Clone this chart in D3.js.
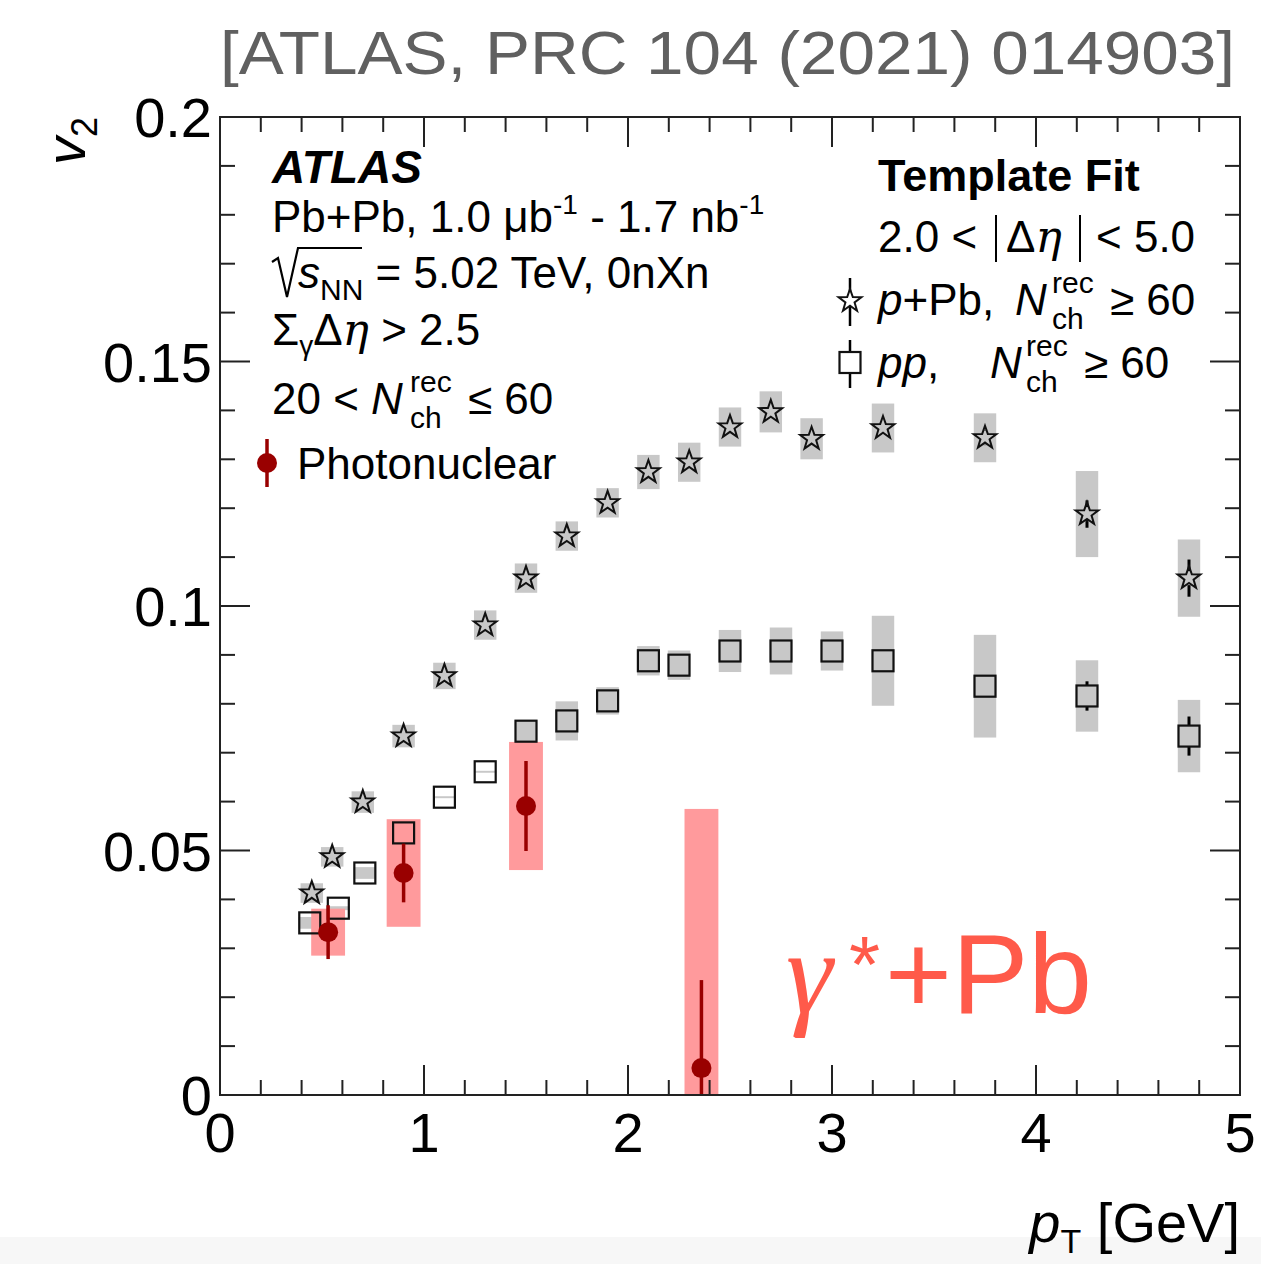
<!DOCTYPE html>
<html><head><meta charset="utf-8">
<script src="https://cdn.jsdelivr.net/npm/d3@7"></script>
<style>
body{margin:0;background:#fff;}
text{font-family:"Liberation Sans",Arial,Helvetica,sans-serif;fill:#000;}
</style>
</head><body>
<svg id="c" width="1261" height="1264"></svg>
<script>
// ---------------- data ----------------
const pPbPt   = [0.45,0.55,0.70,0.90,1.10,1.30,1.50,1.70,1.90,2.10,2.30,2.50,2.70,2.90,3.25,3.75,4.25,4.75];
const pPbV2   = [0.0413,0.0487,0.0599,0.0734,0.0857,0.0961,0.1057,0.1143,0.1211,0.1274,0.1294,0.1366,0.1397,0.1342,0.1364,0.1344,0.1188,0.1057];
const pPbStat = [0.0005,0.0005,0.0005,0.0005,0.0005,0.0006,0.0006,0.0007,0.0008,0.0009,0.0010,0.0010,0.0012,0.0013,0.0012,0.0015,0.0028,0.0038];
const pPbSyst = [0.0020,0.0020,0.0022,0.0023,0.0027,0.0030,0.0030,0.0030,0.0030,0.0035,0.0040,0.0040,0.0042,0.0042,0.0050,0.0050,0.0088,0.0079];

const ppPt    = [0.44,0.58,0.71,0.90,1.10,1.30,1.50,1.70,1.90,2.10,2.25,2.50,2.75,3.00,3.25,3.75,4.25,4.75];
const ppV2    = [0.0352,0.0382,0.0454,0.0536,0.0609,0.0661,0.0744,0.0765,0.0806,0.0888,0.0879,0.0908,0.0908,0.0908,0.0888,0.0836,0.0816,0.0734];
const ppStat  = [0.0004,0.0004,0.0004,0.0004,0.0004,0.0005,0.0005,0.0006,0.0006,0.0007,0.0007,0.0008,0.0009,0.0010,0.0011,0.0014,0.0030,0.0040];
const ppSyst  = [0.0012,0.0004,0.0012,0.0002,0.0002,0.0002,0.0022,0.0040,0.0028,0.0030,0.0030,0.0043,0.0048,0.0040,0.0092,0.0105,0.0073,0.0074];

const phPt    = [0.53,0.90,1.50,2.36];
const phV2    = [0.0333,0.0454,0.0591,0.0055];
const phStat  = [0.0055,0.0060,0.0092,0.0180];
const phSyst  = [0.0048,0.0110,0.0131,0.0530];

const xTicks  = [0,1,2,3,4,5];
const yTicks  = [0,0.05,0.1,0.15,0.2];
const yTickLabels = ["0","0.05","0.1","0.15","0.2"];

// ---------------- layout ----------------
const svg = d3.select("#c");
const L = 220, R = 1240, T = 117, B = 1095;
const x = d3.scaleLinear().domain([0,5]).range([L,R]);
const y = d3.scaleLinear().domain([0,0.2]).range([B,T]);

svg.append("rect").attr("x",0).attr("y",0).attr("width",1261).attr("height",1264).attr("fill","#fff");
svg.append("rect").attr("x",0).attr("y",1237).attr("width",1261).attr("height",27).attr("fill","#f7f7f7");

// title
svg.append("text").attr("x",220).attr("y",74).attr("font-size",62)
  .style("fill","#606060").attr("textLength",1015).attr("lengthAdjust","spacingAndGlyphs")
  .text("[ATLAS, PRC 104 (2021) 014903]");

const defs = svg.append("defs");
defs.append("clipPath").attr("id","clip").append("rect")
  .attr("x",L).attr("y",T).attr("width",R-L).attr("height",B-T);
const plot = svg.append("g").attr("clip-path","url(#clip)");

const greyBox = "#c8c8c8", pinkBox = "#ff9a9c", darkRed = "#990000";
const gw = 0.055, rw = 0.083;

function sysBoxes(pts, vals, syst, col, hw){
  plot.append("g").selectAll("rect").data(pts).join("rect")
    .attr("x",(d)=>x(d-hw)).attr("width",(d)=>x(d+hw)-x(d-hw))
    .attr("y",(d,i)=>y(vals[i]+syst[i])).attr("height",(d,i)=>y(vals[i]-syst[i])-y(vals[i]+syst[i]))
    .attr("fill",col);
}
sysBoxes(pPbPt,pPbV2,pPbSyst,greyBox,gw);
sysBoxes(ppPt,ppV2,ppSyst,greyBox,gw);
sysBoxes(phPt,phV2,phSyst,pinkBox,rw);

// stat bars drawn only outside the marker (gap = marker half-size)
function statBars(pts, vals, stat, col, w, gap){
  const gg = plot.append("g").attr("stroke",col).attr("stroke-width",w);
  pts.forEach((d,i)=>{
    const yc = y(vals[i]), yt = y(vals[i]+stat[i]), yb = y(vals[i]-stat[i]);
    if (yc-yt > gap) gg.append("line").attr("x1",x(d)).attr("x2",x(d)).attr("y1",yt).attr("y2",yc-gap);
    if (yb-yc > gap) gg.append("line").attr("x1",x(d)).attr("x2",x(d)).attr("y1",yc+gap).attr("y2",yb);
  });
}
statBars(pPbPt,pPbV2,pPbStat,"#000",3,7);
statBars(ppPt,ppV2,ppStat,"#000",3,10.5);

function starPath(cx,cy,ro,ri){
  let p="";
  for(let k=0;k<10;k++){
    const r = k%2===0?ro:ri;
    const a = -Math.PI/2 + k*Math.PI/5;
    p += (k===0?"M":"L")+(cx+r*Math.cos(a)).toFixed(2)+","+(cy+r*Math.sin(a)).toFixed(2);
  }
  return p+"Z";
}
plot.append("g").selectAll("rect").data(ppPt).join("rect")
  .attr("x",(d)=>x(d)-10.5).attr("y",(d,i)=>y(ppV2[i])-10.5)
  .attr("width",21).attr("height",21).attr("fill","none").attr("stroke","#111").attr("stroke-width",2.2);
plot.append("g").selectAll("path").data(pPbPt).join("path")
  .attr("d",(d,i)=>starPath(x(d),y(pPbV2[i]),12,4.8))
  .attr("fill","none").attr("stroke","#111").attr("stroke-width",2);

// photonuclear
statBars(phPt,phV2,phStat,darkRed,3.5,0);
plot.append("g").selectAll("circle").data(phPt).join("circle")
  .attr("cx",(d)=>x(d)).attr("cy",(d,i)=>y(phV2[i])).attr("r",10).attr("fill",darkRed);

// ---------------- frame & ticks ----------------
const ax = svg.append("g").attr("stroke","#222").attr("stroke-width",2);
ax.append("rect").attr("x",L).attr("y",T).attr("width",R-L).attr("height",B-T).attr("fill","none");
d3.range(0,5.0001,0.2).forEach(v=>{
  const major = Math.abs(v-Math.round(v))<1e-6;
  const len = major?30:15;
  ax.append("line").attr("x1",x(v)).attr("x2",x(v)).attr("y1",B).attr("y2",B-len);
  ax.append("line").attr("x1",x(v)).attr("x2",x(v)).attr("y1",T).attr("y2",T+len);
});
d3.range(0,0.20001,0.01).forEach(v=>{
  const major = Math.abs(v/0.05-Math.round(v/0.05))<1e-6;
  const len = major?30:15;
  ax.append("line").attr("x1",L).attr("x2",L+len).attr("y1",y(v)).attr("y2",y(v));
  ax.append("line").attr("x1",R).attr("x2",R-len).attr("y1",y(v)).attr("y2",y(v));
});

// tick labels
svg.append("g").selectAll("text").data(xTicks).join("text")
  .attr("x",(d)=>x(d)).attr("y",B+57).attr("text-anchor","middle").attr("font-size",56)
  .text((d)=>d);
svg.append("g").selectAll("text").data(yTicks).join("text")
  .attr("x",212).attr("y",(d)=>y(d)+20).attr("text-anchor","end").attr("font-size",56)
  .text((d,i)=>yTickLabels[i]);

// axis titles
const yl = svg.append("text").attr("transform","translate(85,165) rotate(-90)").attr("font-size",56);
yl.append("tspan").attr("font-style","italic").text("v");
yl.append("tspan").attr("font-size",36).attr("dy",12).text("2");

const xl = svg.append("text").attr("x",1240).attr("y",1242).attr("text-anchor","end").attr("font-size",56);
xl.append("tspan").attr("font-style","italic").text("p");
xl.append("tspan").attr("font-size",34).attr("dy",11).text("T");
xl.append("tspan").attr("dy",-11).text(" [GeV]");

// ---------------- left legend ----------------
const fs = 44;
svg.append("text").attr("x",272).attr("y",183).attr("font-size",46).attr("font-weight","bold").attr("font-style","italic").text("ATLAS");
const t2 = svg.append("text").attr("x",272).attr("y",232).attr("font-size",fs);
t2.append("tspan").text("Pb+Pb, 1.0 μb");
t2.append("tspan").attr("font-size",28).attr("dy",-18).text("-1");
t2.append("tspan").attr("dy",18).text(" - 1.7 nb");
t2.append("tspan").attr("font-size",28).attr("dy",-18).text("-1");

svg.append("path").attr("d","M272,262 L278,258 L287,297 L298,248 L362,248").attr("fill","none").attr("stroke","#000").attr("stroke-width",2.2);
const t3 = svg.append("text").attr("x",298).attr("y",288).attr("font-size",fs);
t3.append("tspan").attr("font-style","italic").text("s");
t3.append("tspan").attr("font-size",30).attr("dy",12).text("NN");
t3.append("tspan").attr("dy",-12).text(" = 5.02 TeV, 0nXn");

const t4 = svg.append("text").attr("x",272).attr("y",345).attr("font-size",fs);
t4.append("tspan").text("Σ");
t4.append("tspan").attr("font-size",28).attr("dy",10).text("γ");
t4.append("tspan").attr("dy",-10).text("Δ");
t4.append("tspan").attr("font-style","italic").style("font-family","'DejaVu Serif',serif").text("η");
t4.append("tspan").text(" > 2.5");

const t5 = svg.append("text").attr("x",272).attr("y",414).attr("font-size",fs);
t5.append("tspan").text("20 < ");
t5.append("tspan").attr("font-style","italic").text("N");
svg.append("text").attr("x",410).attr("y",392).attr("font-size",30).text("rec");
svg.append("text").attr("x",410).attr("y",428).attr("font-size",30).text("ch");
svg.append("text").attr("x",468).attr("y",414).attr("font-size",fs).text("≤ 60");

svg.append("line").attr("x1",267).attr("x2",267).attr("y1",439).attr("y2",487).attr("stroke",darkRed).attr("stroke-width",3.5);
svg.append("circle").attr("cx",267).attr("cy",463).attr("r",10).attr("fill",darkRed);
svg.append("text").attr("x",297).attr("y",479).attr("font-size",fs).text("Photonuclear");

// ---------------- right legend ----------------
svg.append("text").attr("x",878).attr("y",191).attr("font-size",45).attr("font-weight","bold").text("Template Fit");
svg.append("text").attr("x",878).attr("y",252).attr("font-size",fs).text("2.0 <");
svg.append("line").attr("x1",996).attr("x2",996).attr("y1",215).attr("y2",262).attr("stroke","#000").attr("stroke-width",2);
svg.append("line").attr("x1",1080).attr("x2",1080).attr("y1",215).attr("y2",262).attr("stroke","#000").attr("stroke-width",2);
const r2b = svg.append("text").attr("x",1006).attr("y",252).attr("font-size",fs);
r2b.append("tspan").text("Δ");
r2b.append("tspan").attr("font-style","italic").style("font-family","'DejaVu Serif',serif").text("η");
svg.append("text").attr("x",1096).attr("y",252).attr("font-size",fs).text("< 5.0");

// star legend
svg.append("line").attr("x1",850).attr("x2",850).attr("y1",278).attr("y2",326).attr("stroke","#000").attr("stroke-width",2.5);
svg.append("path").attr("d",starPath(850,301,12,4.8)).attr("fill","#fff").attr("stroke","#111").attr("stroke-width",2);
const r3 = svg.append("text").attr("x",878).attr("y",315).attr("font-size",fs);
r3.append("tspan").attr("font-style","italic").text("p");
r3.append("tspan").text("+Pb,");
svg.append("text").attr("x",1015).attr("y",315).attr("font-size",fs).attr("font-style","italic").text("N");
svg.append("text").attr("x",1052).attr("y",293).attr("font-size",30).text("rec");
svg.append("text").attr("x",1052).attr("y",329).attr("font-size",30).text("ch");
svg.append("text").attr("x",1110).attr("y",315).attr("font-size",fs).text("≥ 60");

// square legend
svg.append("line").attr("x1",850).attr("x2",850).attr("y1",340).attr("y2",388).attr("stroke","#000").attr("stroke-width",2.5);
svg.append("rect").attr("x",839.5).attr("y",352).attr("width",21).attr("height",21).attr("fill","#fff").attr("stroke","#111").attr("stroke-width",2.2);
const r4 = svg.append("text").attr("x",878).attr("y",378).attr("font-size",fs);
r4.append("tspan").attr("font-style","italic").text("pp");
r4.append("tspan").text(",");
svg.append("text").attr("x",990).attr("y",378).attr("font-size",fs).attr("font-style","italic").text("N");
svg.append("text").attr("x",1026).attr("y",356).attr("font-size",30).text("rec");
svg.append("text").attr("x",1026).attr("y",392).attr("font-size",30).text("ch");
svg.append("text").attr("x",1084).attr("y",378).attr("font-size",fs).text("≥ 60");

// gamma*+Pb
const red2 = "#ff5a4a";
svg.append("text").attr("x",786).attr("y",1013).attr("font-size",118).attr("font-style","italic")
  .style("font-family","'Liberation Serif','DejaVu Serif',serif").style("fill",red2).text("γ");
svg.append("text").attr("x",849).attr("y",992).attr("font-size",80).style("fill",red2).text("*");
svg.append("text").attr("x",885).attr("y",1013).attr("font-size",114).attr("textLength",207)
  .attr("lengthAdjust","spacingAndGlyphs").style("fill",red2).text("+Pb");
</script>
</body></html>
